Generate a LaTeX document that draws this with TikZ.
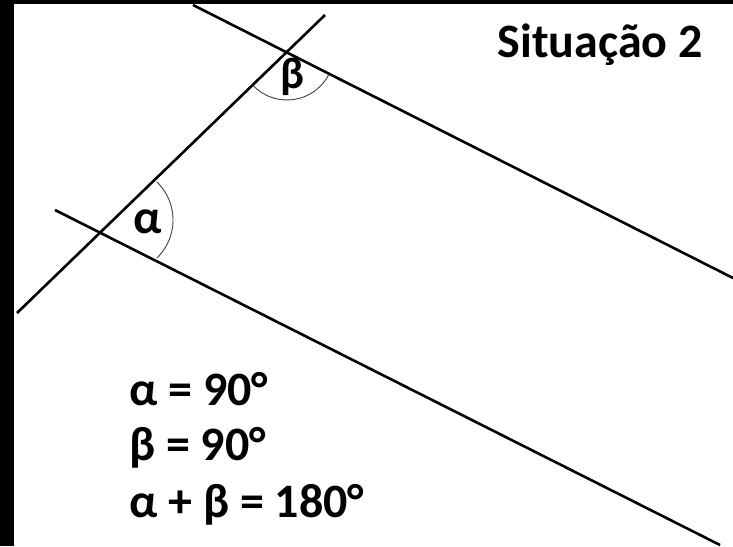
\documentclass[tikz,border=0pt]{standalone}
\usepackage{fontspec}
\setmainfont{Carlito}
\begin{document}
\begin{tikzpicture}[
  x=1pt, y=-1pt,
  every node/.style={inner sep=0pt, font=\bfseries\fontsize{48}{56}\selectfont},
  reta/.style={line width=2.6pt},
  arco/.style={line width=0.9pt, black!75}
]
  \useasboundingbox (0,0) rectangle (733,546);
  \fill[black] (0,0) rectangle (14,546);
  \fill[black] (0,0) rectangle (733,3.5);

  \coordinate (A) at (100,232);
  \coordinate (B) at (287,53);
  \coordinate (t1) at (17,313);
  \coordinate (t2) at (325,15);
  \coordinate (s1) at (193,5);
  \coordinate (s2) at (733,278);
  \coordinate (r1) at (55,210);
  \coordinate (r2) at (720,545);

  \draw[reta] (t1)--(t2) (s1)--(s2) (r1)--(r2);

  \draw[arco] (A) ++(20,-12) ++(-46:53) arc[start angle=-46, end angle=46, radius=53];
  \draw[arco] (B) ++(26.8:47) arc[start angle=26.8, end angle=136.3, radius=47];

  \node (alfa) at (148,222) {α};
  \node[font=\bfseries\fontsize{44}{48}\selectfont] (beta) at (292,77) {β};

  \node[anchor=base east] (titulo) at (703,57) {Situação 2};
  \node[anchor=base west] (eq1) at (129,405) {α = 90°};
  \node[anchor=base west] (eq2) at (129,460) {β = 90°};
  \node[anchor=base west] (eq3) at (129,517) {α + β = 180°};
\end{tikzpicture}
\end{document}
